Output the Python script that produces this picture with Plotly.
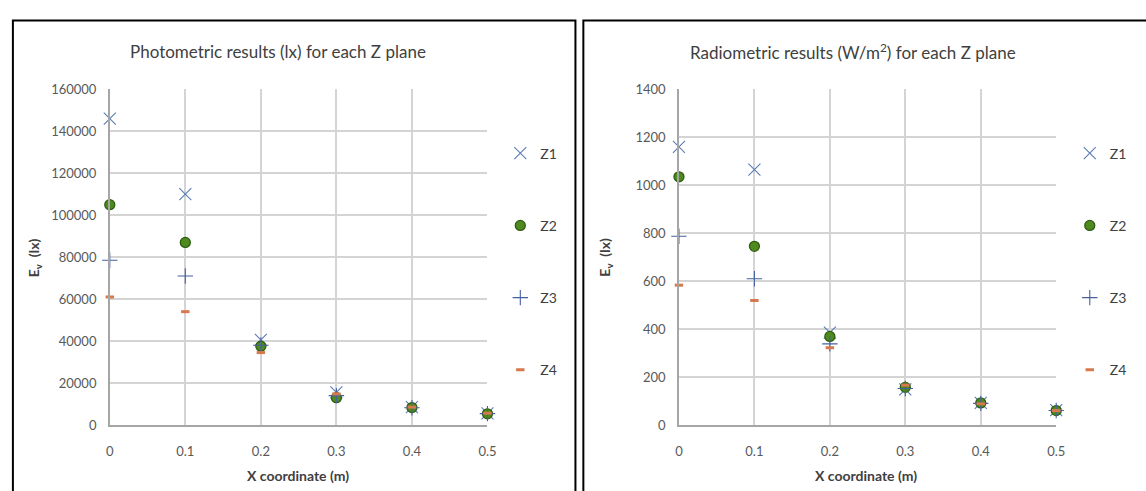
import plotly.graph_objects as go

W, H = 1146, 491

x_vals = [0, 0.1, 0.2, 0.3, 0.4, 0.5]
series_names = ["Z1", "Z2", "Z3", "Z4"]

# Photometric (lx)
photo_z1 = [146000, 110000, 40500, 15500, 8500, 5500]
photo_z2 = [105000, 87000, 37500, 13000, 8300, 5300]
photo_z3 = [78500, 71000, 38000, 14000, 8200, 5400]
photo_z4 = [61000, 54000, 34500, 14800, 8500, 5600]

# Radiometric (W/m2)
radio_z1 = [1160, 1065, 385, 148, 92, 62]
radio_z2 = [1035, 745, 369, 157, 92, 60]
radio_z3 = [787, 610, 338, 152, 90, 60]
radio_z4 = [583, 519, 322, 166, 88, 60]

title_left = "Photometric results (lx) for each Z plane"
title_right = "Radiometric results (W/m<sup>2</sup>) for each Z plane"
x_title = "<b>X coordinate (m)</b>"
y_title = "<b>E<sub>v</sub>  (lx)</b>"

FONT = "Lato, 'Liberation Sans', sans-serif"
TICK_COLOR = "#595959"
TEXT_COLOR = "#404040"

styles = [
    dict(symbol="x-thin-open", size=12, color="#5a7bb5", line=dict(width=1.1, color="#5a7bb5")),
    dict(symbol="circle", size=10, color="#4f8a1f", line=dict(width=1.3, color="#2f5d12")),
    dict(symbol="cross-thin-open", size=11, color="#44609e", line=dict(width=1.1, color="#44609e")),
    dict(symbol="line-ew-open", size=6, color="#d7794c", line=dict(width=3, color="#d7794c")),
]

fig = go.Figure()

left_data = [photo_z1, photo_z2, photo_z3, photo_z4]
right_data = [radio_z1, radio_z2, radio_z3, radio_z4]

for i, (name, ys) in enumerate(zip(series_names, left_data)):
    fig.add_trace(go.Scatter(
        x=x_vals, y=ys, mode="markers", name=name, marker=styles[i],
        xaxis="x", yaxis="y", legend="legend", legendgroup="L" + name,
        cliponaxis=False))
for i, (name, ys) in enumerate(zip(series_names, right_data)):
    fig.add_trace(go.Scatter(
        x=x_vals, y=ys, mode="markers", name=name, marker=styles[i],
        xaxis="x2", yaxis="y2", legend="legend2", legendgroup="R" + name,
        cliponaxis=False))

def px_x(p):
    return p / W

def px_y(p):
    return (H - p) / H

axis_common = dict(
    showgrid=True, gridcolor="#d4d4d4", gridwidth=1.5,
    zeroline=False, showline=True, linecolor="#a6a6a6", linewidth=1.5,
    ticks="", tickfont=dict(family=FONT, size=13, color=TICK_COLOR),
    fixedrange=True,
)

legend_common = dict(xanchor="left", yanchor="top", tracegroupgap=51,
                     bgcolor="rgba(0,0,0,0)", itemwidth=30,
                     font=dict(family=FONT, size=14, color=TEXT_COLOR))

fig.update_layout(
    width=W, height=H,
    margin=dict(l=0, r=0, t=0, b=0),
    paper_bgcolor="white", plot_bgcolor="white",
    font=dict(family=FONT, color=TEXT_COLOR),
    showlegend=True,
    xaxis=dict(domain=[px_x(107), px_x(489)], range=[0, 0.5], dtick=0.1, tick0=0,
               anchor="y", ticklabelstandoff=14, **axis_common),
    yaxis=dict(domain=[px_y(431), px_y(84)], range=[0, 160000], dtick=20000,
               tickformat="d", anchor="x", ticklabelstandoff=9, **axis_common),
    xaxis2=dict(domain=[px_x(682.7), px_x(1064.3)], range=[0, 0.5], dtick=0.1, tick0=0,
                anchor="y2", ticklabelstandoff=14, **axis_common),
    yaxis2=dict(domain=[px_y(431), px_y(84)], range=[0, 1400], dtick=200,
                tickformat="d", anchor="x2", ticklabelstandoff=9, **axis_common),
    legend=dict(x=px_x(502), y=px_y(134), **legend_common),
    legend2=dict(x=px_x(1078), y=px_y(134), **legend_common),
    shapes=[
        dict(type="rect", xref="paper", yref="paper",
             x0=px_x(9), x1=px_x(578), y0=-0.1, y1=px_y(13),
             line=dict(color="black", width=2)),
        dict(type="rect", xref="paper", yref="paper",
             x0=px_x(586), x1=1.01, y0=-0.1, y1=px_y(13),
             line=dict(color="black", width=2)),
    ],
    annotations=[
        dict(text=title_left, xref="paper", yref="paper", x=px_x(277), y=px_y(45),
             xanchor="center", yanchor="middle", showarrow=False,
             font=dict(family=FONT, size=17, color=TEXT_COLOR)),
        dict(text=title_right, xref="paper", yref="paper", x=px_x(859), y=px_y(45),
             xanchor="center", yanchor="middle", showarrow=False,
             font=dict(family=FONT, size=17, color=TEXT_COLOR)),
        dict(text=x_title, xref="paper", yref="paper", x=px_x(297), y=px_y(483),
             xanchor="center", yanchor="middle", showarrow=False,
             font=dict(family=FONT, size=14, color=TEXT_COLOR)),
        dict(text=x_title, xref="paper", yref="paper", x=px_x(872), y=px_y(483),
             xanchor="center", yanchor="middle", showarrow=False,
             font=dict(family=FONT, size=14, color=TEXT_COLOR)),
        dict(text=y_title, xref="paper", yref="paper", x=px_x(31), y=px_y(258),
             xanchor="center", yanchor="middle", showarrow=False, textangle=-90,
             font=dict(family=FONT, size=14, color=TEXT_COLOR)),
        dict(text=y_title, xref="paper", yref="paper", x=px_x(609), y=px_y(258),
             xanchor="center", yanchor="middle", showarrow=False, textangle=-90,
             font=dict(family=FONT, size=14, color=TEXT_COLOR)),
    ],
)

fig.write_html("out.html")
